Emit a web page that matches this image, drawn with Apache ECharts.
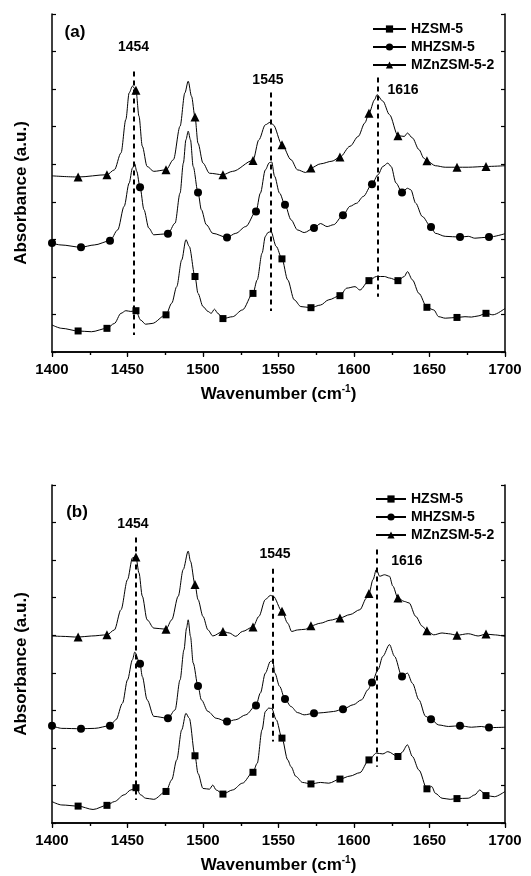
<!DOCTYPE html>
<html><head><meta charset="utf-8">
<script src="https://cdn.jsdelivr.net/npm/echarts@6/dist/echarts.min.js"></script>
<style>html,body{margin:0;padding:0;background:#fff}#c{width:531px;height:876px}</style>
</head><body><div id="c"></div>
<script>
const FONT = '"Liberation Sans", Arial, Helvetica, sans-serif';
const seriesNames = ['HZSM-5', 'MHZSM-5', 'MZnZSM-5-2'];
const seriesSymbols = ['rect', 'circle', 'triangle'];
const xMin = 1400, xMax = 1700, xStep = 50;

// ---------- Panel (a) ----------
const a_HZ_curve = [[1400,0.72],[1406.5,0.63],[1426.1,0.54],[1441.3,0.76],[1445.7,1.03],[1448.9,1.10],[1452.2,1.08],[1458.7,0.85],[1462,0.74],[1466.3,0.76],[1479.3,1.30],[1482.6,1.74],[1485.9,2.45],[1488.7,2.99],[1490.9,2.81],[1496.7,1.56],[1500,1.21],[1503.3,1.08],[1505.4,1.03],[1507.6,1.14],[1509.8,1.03],[1519.6,0.94],[1526.1,1.12],[1535.9,1.92],[1539.1,2.63],[1541.3,3.08],[1543,3.18],[1545,3.21],[1548.5,2.81],[1556.1,1.92],[1560.4,1.39],[1564.8,1.21],[1577.8,1.25],[1583.3,1.39],[1595.2,1.70],[1600.7,1.74],[1603.9,1.65],[1614.8,2.01],[1620.2,2.01],[1623.5,1.97],[1633.3,2.01],[1635.4,2.14],[1638.7,1.92],[1643,1.56],[1652.8,1.12],[1656.1,0.94],[1660.4,0.90],[1673.5,0.94],[1677.8,0.93],[1682.2,0.96],[1692,0.99],[1700,1.16]];
const a_HZ_marks = [[1417.3,0.56],[1436.4,0.63],[1455.6,1.10],[1475.5,0.99],[1494.7,2.01],[1513.2,0.89],[1533.1,1.56],[1552.3,2.48],[1571.5,1.18],[1590.7,1.50],[1609.9,1.90],[1629.1,1.90],[1648.3,1.19],[1668.2,0.92],[1687.4,1.03]];

const a_MH_curve = [[1406,2.85],[1428,2.85],[1443.5,3.25],[1447.8,3.88],[1451.1,4.50],[1453.3,4.90],[1454.8,5.01],[1456.1,4.81],[1460.9,3.79],[1464.1,3.30],[1467.4,3.12],[1481.5,3.43],[1484.8,4.23],[1487,5.03],[1488.7,5.65],[1490.2,5.88],[1491.7,5.65],[1493.5,4.94],[1498.9,3.79],[1502.2,3.39],[1506.5,3.16],[1521.7,3.16],[1528.3,3.34],[1538,4.23],[1541.3,4.85],[1543.9,5.04],[1545.5,5.06],[1547.4,4.68],[1550.7,4.23],[1558.3,3.52],[1562.6,3.25],[1567,3.18],[1577.8,3.42],[1582.2,3.34],[1586.5,3.39],[1597.4,3.88],[1601.7,3.96],[1606.1,4.14],[1615.9,4.72],[1619.1,4.94],[1622.4,5.03],[1624.6,4.94],[1627.8,4.50],[1635.4,4.36],[1637.6,4.32],[1640.9,3.96],[1645.2,3.61],[1653.9,3.16],[1660.4,3.08],[1675.7,3.08],[1680,3.03],[1700,3.15]];
const a_MH_marks = [[1400,2.90],[1419.2,2.79],[1438.4,2.96],[1458.3,4.39],[1476.8,3.15],[1496.7,4.25],[1515.9,3.05],[1535.1,3.74],[1554.3,3.92],[1573.5,3.30],[1592.7,3.64],[1611.9,4.47],[1631.8,4.25],[1651,3.33],[1670.2,3.06],[1689.4,3.06]];

const a_MZ_curve = [[1400,4.69],[1441.3,4.85],[1445.7,5.30],[1448.9,6.19],[1451.1,6.90],[1453.3,7.08],[1457.6,6.28],[1459.8,5.48],[1463,4.94],[1467.4,4.81],[1480.4,5.12],[1484.8,6.01],[1488,6.90],[1490.2,7.21],[1492.4,6.81],[1496.7,5.56],[1500,5.03],[1504.3,4.76],[1519.6,4.81],[1537,5.65],[1541.3,6.05],[1544.6,6.12],[1546.5,6.05],[1558.3,5.12],[1562.6,4.85],[1568,4.78],[1577.8,5.01],[1585.4,5.08],[1597.4,5.48],[1602.8,5.74],[1607.2,6.10],[1613.7,6.72],[1615.2,6.85],[1619.1,6.68],[1623.5,6.32],[1633.3,5.74],[1635.4,5.83],[1638.7,5.70],[1643,5.39],[1646.3,5.16],[1653.9,4.96],[1660.4,4.92],[1675.7,4.92],[1700,4.96]];
const a_MZ_marks = [[1417.3,4.66],[1436.4,4.72],[1455.6,6.97],[1475.5,4.85],[1494.7,6.26],[1513.2,4.72],[1533.1,5.10],[1552.3,5.52],[1571.5,4.90],[1590.7,5.19],[1609.9,6.36],[1629.1,5.76],[1648.3,5.09],[1668.2,4.92],[1687.4,4.94]];

const a_dashes = [[1454,7.47,0.45],[1545,6.91,1.09],[1616,7.31,1.47]];
const a_texts = [[1415.2,8.51,'(a)',17],[1454,8.13,'1454',14],[1543,7.23,'1545',14],[1632.5,6.96,'1616',14]];

// ---------- Panel (b) ----------
const b_HZ_curve = [[1400,0.57],[1406.5,0.48],[1427.2,0.36],[1441.3,0.57],[1447.8,0.75],[1452.2,0.88],[1458.7,0.75],[1462,0.66],[1467.4,0.63],[1479.3,1.15],[1482.6,1.68],[1485.9,2.48],[1488.7,2.92],[1490.9,2.79],[1496.7,1.32],[1500,0.92],[1504.3,0.90],[1506.5,1.01],[1508.7,0.88],[1519.6,0.88],[1526.1,1.06],[1535.9,1.59],[1539.1,2.48],[1541.3,2.97],[1543.5,3.06],[1545.5,3.05],[1548.5,2.75],[1556.1,1.68],[1558.3,1.50],[1561.5,1.24],[1565.9,1.08],[1577.8,1.08],[1583.3,1.06],[1597.4,1.25],[1603.9,1.34],[1614.8,1.86],[1619.1,1.84],[1622.4,1.90],[1631.7,1.88],[1635.4,2.08],[1638.7,1.77],[1643,1.41],[1651.5,0.97],[1653.9,0.79],[1658.3,0.66],[1663.7,0.63],[1675.7,0.66],[1680,0.75],[1683.3,0.88],[1693,0.70],[1700,0.84]];
const b_HZ_marks = [[1417.3,0.45],[1436.4,0.47],[1455.6,0.94],[1475.5,0.84],[1494.7,1.79],[1513.2,0.77],[1533.1,1.35],[1552.3,2.26],[1571.5,1.04],[1590.7,1.17],[1609.9,1.68],[1629.1,1.77],[1648.3,0.91],[1668.2,0.65],[1687.4,0.73]];

const b_MH_curve = [[1406.5,2.52],[1428.3,2.52],[1442.4,2.75],[1446.7,3.19],[1450,3.81],[1453.3,4.35],[1454.8,4.55],[1459.8,3.90],[1463,3.28],[1467.4,2.84],[1481.5,3.01],[1484.8,3.81],[1487.4,4.61],[1489.1,5.19],[1490.2,5.41],[1491.7,4.97],[1493.5,4.26],[1498.9,3.28],[1503.3,2.97],[1508.7,2.79],[1521.7,2.75],[1528.3,2.88],[1538,3.46],[1541.3,3.99],[1544.6,4.30],[1546.2,4.32],[1547.6,3.99],[1550.7,3.64],[1558.3,3.10],[1562.6,2.94],[1567,2.88],[1580,2.94],[1586.5,2.97],[1599.6,3.15],[1605,3.28],[1609.3,3.55],[1615.9,4.08],[1619.1,4.44],[1623.5,4.75],[1626.8,4.44],[1635.4,3.99],[1638.7,3.72],[1643,3.28],[1647.4,2.84],[1656.1,2.61],[1662.6,2.57],[1677.8,2.55],[1684.3,2.57],[1700,2.55]];
const b_MH_marks = [[1400,2.59],[1419.2,2.51],[1438.4,2.59],[1458.3,4.24],[1476.8,2.79],[1496.7,3.65],[1515.9,2.70],[1535.1,3.13],[1554.3,3.30],[1573.5,2.92],[1592.7,3.03],[1611.9,3.74],[1631.8,3.90],[1651,2.76],[1670.2,2.59],[1689.4,2.54]];

const b_MZ_curve = [[1400,4.98],[1406.5,4.97],[1426.1,4.98],[1441.3,5.14],[1445.7,5.68],[1450,6.48],[1453.3,7.06],[1457.6,6.66],[1459.8,6.04],[1463,5.41],[1467.4,5.19],[1479.3,5.41],[1483.6,6.04],[1486.9,6.75],[1490.2,7.24],[1491.7,6.97],[1496.7,5.95],[1500,5.50],[1503.3,5.14],[1506.5,4.98],[1517.4,5.06],[1521.7,4.97],[1526.1,5.10],[1537,5.50],[1541.3,5.95],[1544.6,6.06],[1546.5,6.04],[1556.1,5.32],[1558.7,5.10],[1562.6,5.14],[1568,5.16],[1577.8,5.32],[1584.3,5.40],[1597.4,5.55],[1603.9,5.68],[1608.3,5.99],[1612.6,6.48],[1614.8,6.75],[1617,6.57],[1620.2,6.61],[1623.5,6.57],[1625.7,6.31],[1633.3,5.90],[1636.5,5.86],[1640.9,5.50],[1645.2,5.24],[1652.8,5.01],[1658.3,5.06],[1662.6,5.04],[1675.7,5.04],[1682.2,4.98],[1692.8,5.01],[1700,4.97]];
const b_MZ_marks = [[1417.3,4.95],[1436.4,5.01],[1455.6,7.08],[1475.5,5.16],[1494.7,6.35],[1513.2,5.10],[1533.1,5.22],[1552.3,5.64],[1571.5,5.25],[1590.7,5.46],[1609.9,6.11],[1629.1,5.99],[1648.3,5.12],[1668.2,5.00],[1687.4,5.03]];

const b_dashes = [[1455.5,7.60,0.61],[1546,6.77,2.17],[1615,7.28,1.50]];
const b_texts = [[1416.6,8.27,'(b)',17],[1453.6,7.95,'1454',14],[1547.7,7.15,'1545',14],[1635,6.96,'1616',14]];

// ---------- build ----------
const symbolSizes = {rect: 7, circle: 8, triangle: 9};
function lineSeries(idx, curve, marks, gi) {
  const pts = curve.map(p => ({value: p, symbol: 'none'})).concat(marks.map(p => ({value: p})));
  pts.sort((a, b) => a.value[0] - b.value[0]);
  const sym = seriesSymbols[idx];
  return {
    type: 'line', name: seriesNames[idx], xAxisIndex: gi * 2, yAxisIndex: gi * 2,
    data: pts, symbol: sym, symbolSize: symbolSizes[sym], showSymbol: true, showAllSymbol: true,
    smooth: 0.3, smoothMonotone: 'x', clip: true,
    lineStyle: {color: '#000', width: 1}, itemStyle: {color: '#000', borderWidth: 0},
    emphasis: {disabled: true}, silent: true, z: 3
  };
}
function annoSeries(texts, dashes, gi) {
  return {
    type: 'scatter', xAxisIndex: gi * 2, yAxisIndex: gi * 2, silent: true, z: 5,
    symbolSize: 1, itemStyle: {color: 'rgba(0,0,0,0)', opacity: 1},
    data: texts.map(t => ({value: [t[0], t[1]], text: t[2],
      label: {fontSize: t[3], color: '#000', opacity: 1}})),
    label: {show: true, position: 'inside', color: '#000', opacity: 1, fontFamily: FONT, fontWeight: 'bold',
      formatter: p => p.data.text},
    emphasis: {disabled: true},
    markLine: {silent: true, symbol: ['none', 'none'], label: {show: false}, animation: false,
      lineStyle: {type: [5, 4], width: 2, color: '#000', opacity: 1},
      data: dashes.map(d => [{coord: [d[0], d[1]]}, {coord: [d[0], d[2]]}])}
  };
}
const axisLineStyle = {color: '#000', width: 1.5};
function xAxes(gi) {
  const base = {type: 'value', gridIndex: gi, min: xMin, max: xMax, interval: xStep,
    splitLine: {show: false}, axisLine: {show: true, lineStyle: axisLineStyle}};
  return [
    Object.assign({}, base, {position: 'bottom',
      axisTick: {show: true, inside: false, length: 5, lineStyle: {color: '#000', width: 1.2}},
      minorTick: {show: true, splitNumber: 2, length: 3, lineStyle: {color: '#000', width: 1.2}},
      axisLabel: {show: true, margin: 10, color: '#000', fontFamily: FONT, fontWeight: 'bold', fontSize: 15,
        formatter: v => String(v)},
      name: '{a|Wavenumber (cm}{s|-1}{a|)}', nameLocation: 'middle', nameGap: 32,
      nameTextStyle: {rich: {
        a: {fontFamily: FONT, fontWeight: 'bold', fontSize: 17, color: '#000', lineHeight: 20},
        s: {fontFamily: FONT, fontWeight: 'bold', fontSize: 10, color: '#000', lineHeight: 10, verticalAlign: 'top'}
      }}}),
    Object.assign({}, base, {position: 'top',
      axisTick: {show: true, inside: true, length: 4, lineStyle: {color: '#000', width: 1.2}},
      minorTick: {show: true, splitNumber: 2, length: 3, lineStyle: {color: '#000', width: 1.2}},
      axisLabel: {show: false}})
  ];
}
function yAxes(gi) {
  const base = {type: 'value', gridIndex: gi, min: 0, max: 9, interval: 1,
    splitLine: {show: false}, axisLine: {show: true, lineStyle: axisLineStyle},
    axisTick: {show: true, inside: true, length: 4, lineStyle: {color: '#000', width: 1.2}},
    axisLabel: {show: false}};
  return [
    Object.assign({}, base, {position: 'left', name: 'Absorbance (a.u.)', nameLocation: 'middle', nameGap: 22,
      nameTextStyle: {fontFamily: FONT, fontWeight: 'bold', fontSize: 17, color: '#000', padding: [0, 20, 0, 0]}}),
    Object.assign({}, base, {position: 'right'})
  ];
}
function legendFor(left, top, w) {
  return {show: true, orient: 'vertical', left: left, top: top, data: seriesNames, selectedMode: false,
    itemWidth: w, itemHeight: 9, itemGap: 4, padding: 0,
    textStyle: {fontFamily: FONT, fontWeight: 'bold', fontSize: 14, color: '#000'}};
}

const option = {
  backgroundColor: '#fff', animation: false,
  grid: [
    {left: 52, top: 14, width: 453, height: 338, outerBoundsMode: 'none', containLabel: false},
    {left: 52, top: 485, width: 453, height: 338, outerBoundsMode: 'none', containLabel: false}
  ],
  legend: [legendFor(372, 22, 33), legendFor(375, 492, 30)],
  xAxis: xAxes(0).concat(xAxes(1)),
  yAxis: yAxes(0).concat(yAxes(1)),
  series: [
    lineSeries(0, a_HZ_curve, a_HZ_marks, 0),
    lineSeries(1, a_MH_curve, a_MH_marks, 0),
    lineSeries(2, a_MZ_curve, a_MZ_marks, 0),
    annoSeries(a_texts, a_dashes, 0),
    lineSeries(0, b_HZ_curve, b_HZ_marks, 1),
    lineSeries(1, b_MH_curve, b_MH_marks, 1),
    lineSeries(2, b_MZ_curve, b_MZ_marks, 1),
    annoSeries(b_texts, b_dashes, 1)
  ]
};
const chart = echarts.init(document.getElementById('c'), null, {renderer: 'canvas'});
chart.setOption(option);
</script></body></html>
